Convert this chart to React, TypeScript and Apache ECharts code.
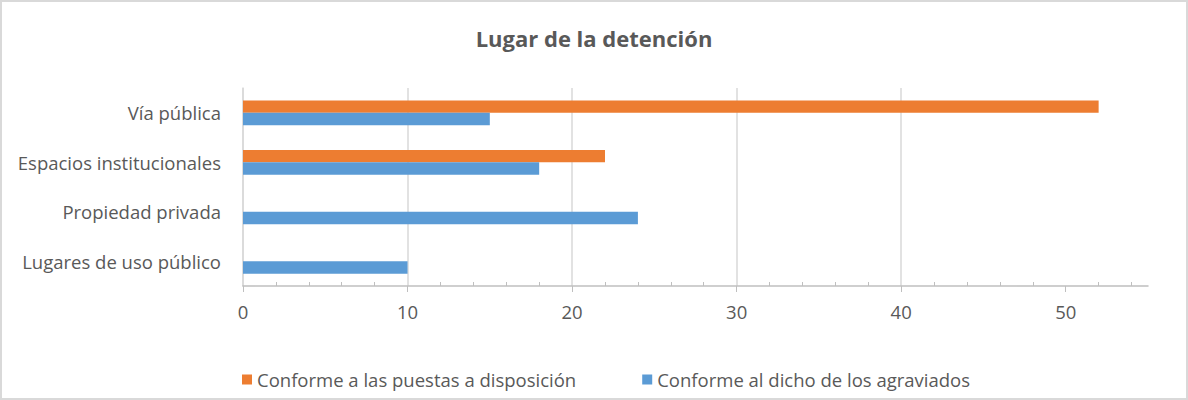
import React, { useEffect, useRef } from "react";
import * as echarts from "echarts";

const categories = ["Vía pública", "Espacios institucionales", "Propiedad privada", "Lugares de uso público"];
const seriesNames = ["Conforme a las puestas a disposición", "Conforme al dicho de los agraviados"];
const puestas = [52, 22, 0, 0];
const agraviados = [15, 18, 24, 10];
const majorTicks = [0, 10, 20, 30, 40, 50];
const minorTicks = [2, 4, 6, 8, 12, 14, 16, 18, 22, 24, 26, 28, 32, 34, 36, 38, 42, 44, 46, 48, 52, 54];
const colors = ["#ED7D31", "#5B9BD5"];

export default function App() {
  const ref = useRef<HTMLDivElement>(null);
  useEffect(() => {
    const chart = echarts.init(ref.current!, null, { renderer: "svg" });
    const font = "'Open Sans', sans-serif";
    chart.setOption({
      animation: false,
      backgroundColor: "#ffffff",
      title: {
        text: "Lugar de la detención",
        left: "center",
        top: 20,
        textStyle: { fontFamily: font, fontSize: 22, fontWeight: "bold", color: "#595959" },
      },
      legend: {
        data: seriesNames,
        left: 235,
        top: 363,
        itemWidth: 10,
        itemHeight: 10,
        itemGap: 66,
        icon: "rect",
        textStyle: { fontFamily: font, fontSize: 18.5, color: "#595959" },
      },
      grid: { left: 241, right: 38, top: 86, bottom: 112, containLabel: false },
      xAxis: [
        {
          type: "value",
          min: 0,
          max: 55,
          interval: 10,
          axisLine: { show: true, lineStyle: { color: "#BFBFBF", width: 1.5 } },
          axisTick: { show: true, length: 6, customValues: majorTicks, lineStyle: { color: "#BFBFBF" } },
          splitLine: { show: true, showMaxLine: false, lineStyle: { color: "#D9D9D9", width: 1.5 } },
          axisLabel: { fontFamily: font, fontSize: 18.5, color: "#595959", margin: 16, customValues: majorTicks },
        },
        {
          type: "value",
          min: 0,
          max: 55,
          interval: 10,
          position: "bottom",
          axisLine: { show: false },
          axisTick: { show: true, inside: true, length: 4, customValues: minorTicks, lineStyle: { color: "#BFBFBF" } },
          splitLine: { show: false },
          axisLabel: { show: false },
        },
      ],
      yAxis: {
        type: "category",
        data: categories,
        inverse: true,
        axisLine: { show: true, lineStyle: { color: "#D9D9D9", width: 1.5 } },
        axisTick: { show: false },
        axisLabel: { fontFamily: font, fontSize: 18.5, color: "#595959", margin: 22 },
      },
      series: [
        {
          name: seriesNames[0],
          type: "bar",
          data: puestas,
          itemStyle: { color: colors[0] },
          barGap: "0%",
          barCategoryGap: "50%",
        },
        {
          name: seriesNames[1],
          type: "bar",
          data: agraviados,
          itemStyle: { color: colors[1] },
          barGap: "0%",
          barCategoryGap: "50%",
        },
      ],
    });
    return () => chart.dispose();
  }, []);
  return (
    <div
      ref={ref}
      style={{ position: "absolute", left: 0, top: 0, width: 1188, height: 400, boxSizing: "border-box", border: "2px solid #D9D9D9" }}
    />
  );
}
